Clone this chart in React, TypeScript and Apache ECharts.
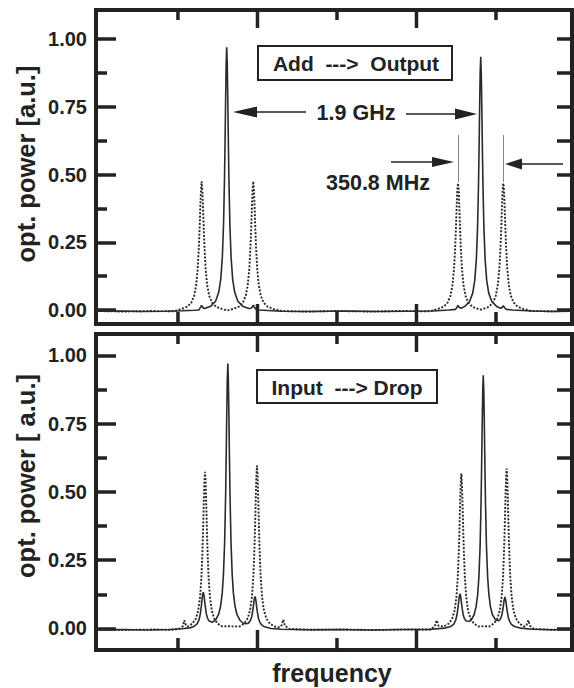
import React, { useEffect, useRef } from "react";
import * as echarts from "echarts";

const FONT = "'Liberation Sans', Arial, Helvetica, sans-serif";
const INK = "#222";

// x positions in arbitrary frequency units, y in a.u.
const X_MIN = -0.031;
const X_MAX = 5.956;
const X_MAJOR = [2, 4];
const X_MINOR = [1, 3, 5];
const Y_MAJOR = [0, 0.25, 0.5, 0.75, 1];
const Y_MINOR = [0.125, 0.375, 0.625, 0.875];
const Y_ALL = [0, 0.125, 0.25, 0.375, 0.5, 0.625, 0.75, 0.875, 1];
const TOP_Y_RANGE = [-0.052, 1.108];
const BOTTOM_Y_RANGE = [-0.079, 1.078];
const PEAK_MARKERS = [4.522, 5.092];
const PEAK_MARKER_SPAN = [0.472, 0.646];

const TOP_SOLID: [number, number][] = [
  [-0.031, -0.005], [0.25, -0.004], [0.55, -0.006], [0.85, -0.005], [1.05, -0.003],
  [1.213, -0.001], [1.265, 0.0], [1.285, 0.01], [1.298, 0.017], [1.312, 0.009], [1.333, 0.005],
  [1.413, 0.014], [1.473, 0.032], [1.513, 0.066], [1.538, 0.113], [1.558, 0.195], [1.573, 0.314],
  [1.585, 0.48], [1.592, 0.616], [1.599, 0.771], [1.606, 0.908], [1.613, 0.97], [1.62, 0.908],
  [1.627, 0.771], [1.634, 0.616], [1.641, 0.48], [1.653, 0.314], [1.668, 0.195], [1.688, 0.113],
  [1.713, 0.066], [1.753, 0.032], [1.813, 0.014], [1.893, 0.005], [1.92, 0.006], [1.935, 0.012],
  [1.947, 0.018], [1.96, 0.01], [1.98, 0.003], [2.013, 0.0], [2.3, -0.005], [2.7, -0.006],
  [3.1, -0.004], [3.5, -0.006], [3.9, -0.005], [4.2, -0.004], [4.408, 0.0], [4.49, 0.002],
  [4.51, 0.01], [4.522, 0.017], [4.536, 0.01], [4.56, 0.006], [4.608, 0.013], [4.668, 0.031],
  [4.708, 0.063], [4.733, 0.109], [4.753, 0.188], [4.768, 0.303], [4.78, 0.463], [4.787, 0.593],
  [4.794, 0.743], [4.801, 0.875], [4.808, 0.935], [4.815, 0.875], [4.822, 0.743], [4.829, 0.593],
  [4.836, 0.463], [4.848, 0.303], [4.863, 0.188], [4.883, 0.109], [4.908, 0.063], [4.948, 0.031],
  [5.008, 0.013], [5.06, 0.006], [5.08, 0.01], [5.092, 0.016], [5.106, 0.009], [5.13, 0.002],
  [5.208, 0.0], [5.45, -0.004], [5.7, -0.006], [5.956, -0.005],
];

const TOP_DOTTED: [number, number][] = [
  [-0.031, -0.004], [0.3, -0.006], [0.65, -0.004], [0.948, -0.005], [1.048, 0.004], [1.118, 0.012],
  [1.168, 0.027], [1.203, 0.052], [1.228, 0.09], [1.248, 0.151], [1.263, 0.233], [1.272, 0.301],
  [1.2805, 0.375], [1.289, 0.441], [1.298, 0.475], [1.307, 0.441], [1.3155, 0.375], [1.324, 0.301],
  [1.333, 0.233], [1.348, 0.151], [1.368, 0.09], [1.393, 0.052], [1.428, 0.027], [1.478, 0.012],
  [1.548, 0.004], [1.62, -0.002], [1.697, 0.004], [1.767, 0.012], [1.817, 0.027], [1.852, 0.052],
  [1.877, 0.09], [1.897, 0.151], [1.912, 0.233], [1.921, 0.301], [1.9295, 0.375], [1.938, 0.441],
  [1.947, 0.475], [1.956, 0.441], [1.9645, 0.375], [1.973, 0.301], [1.982, 0.233], [1.997, 0.151],
  [2.017, 0.09], [2.042, 0.052], [2.077, 0.027], [2.127, 0.012], [2.197, 0.004], [2.297, -0.004],
  [2.6, -0.006], [3.0, -0.004], [3.4, -0.006], [3.8, -0.004], [4.172, -0.005], [4.272, 0.004],
  [4.342, 0.012], [4.392, 0.027], [4.427, 0.052], [4.452, 0.09], [4.472, 0.151], [4.487, 0.233],
  [4.496, 0.301], [4.5045, 0.375], [4.513, 0.441], [4.522, 0.468], [4.531, 0.441], [4.5395, 0.375],
  [4.548, 0.301], [4.557, 0.233], [4.572, 0.151], [4.592, 0.09], [4.617, 0.052], [4.652, 0.027],
  [4.702, 0.012], [4.772, 0.004], [4.807, 0.001], [4.842, 0.004], [4.912, 0.012], [4.962, 0.027],
  [4.997, 0.052], [5.022, 0.09], [5.042, 0.151], [5.057, 0.233], [5.066, 0.301], [5.0745, 0.375],
  [5.083, 0.441], [5.092, 0.468], [5.101, 0.441], [5.1095, 0.375], [5.118, 0.301], [5.127, 0.233],
  [5.142, 0.151], [5.162, 0.09], [5.187, 0.052], [5.222, 0.027], [5.272, 0.012], [5.342, 0.004],
  [5.442, -0.004], [5.7, -0.005], [5.956, -0.004],
];

const BOTTOM_SOLID: [number, number][] = [
  [-0.031, -0.005], [0.3, -0.004], [0.6, -0.006], [0.9, -0.004], [1.05, -0.001], [1.15, 0.002],
  [1.2, 0.007], [1.24, 0.017], [1.263, 0.03], [1.28, 0.051], [1.295, 0.084], [1.308, 0.12],
  [1.318, 0.133], [1.328, 0.12], [1.341, 0.086], [1.356, 0.055], [1.373, 0.036], [1.396, 0.026],
  [1.436, 0.023], [1.476, 0.032], [1.512, 0.052], [1.537, 0.083], [1.557, 0.131], [1.572, 0.197],
  [1.587, 0.315], [1.599, 0.481], [1.606, 0.617], [1.613, 0.772], [1.62, 0.909], [1.627, 0.97],
  [1.634, 0.909], [1.641, 0.772], [1.648, 0.617], [1.655, 0.481], [1.667, 0.316], [1.682, 0.197],
  [1.697, 0.13], [1.717, 0.082], [1.742, 0.051], [1.782, 0.029], [1.822, 0.019], [1.862, 0.017],
  [1.889, 0.02], [1.911, 0.029], [1.928, 0.043], [1.944, 0.071], [1.958, 0.104], [1.969, 0.117],
  [1.98, 0.103], [1.994, 0.069], [2.01, 0.04], [2.027, 0.024], [2.049, 0.014], [2.089, 0.006],
  [2.17, 0.0], [2.3, -0.003], [2.6, -0.005], [3.0, -0.004], [3.4, -0.006], [3.8, -0.004],
  [4.15, -0.004], [4.35, 0.001], [4.43, 0.007], [4.469, 0.016], [4.492, 0.029], [4.509, 0.049],
  [4.524, 0.08], [4.537, 0.114], [4.547, 0.127], [4.557, 0.115], [4.57, 0.083], [4.585, 0.054],
  [4.602, 0.036], [4.625, 0.027], [4.665, 0.026], [4.685, 0.03], [4.725, 0.05], [4.75, 0.08],
  [4.77, 0.125], [4.785, 0.188], [4.8, 0.301], [4.812, 0.459], [4.819, 0.588], [4.826, 0.737],
  [4.833, 0.867], [4.84, 0.927], [4.847, 0.867], [4.854, 0.737], [4.861, 0.588], [4.868, 0.459],
  [4.88, 0.302], [4.895, 0.188], [4.91, 0.126], [4.93, 0.08], [4.955, 0.05], [4.995, 0.031],
  [5.033, 0.028], [5.055, 0.034], [5.072, 0.047], [5.088, 0.072], [5.102, 0.103], [5.113, 0.115],
  [5.124, 0.101], [5.138, 0.069], [5.154, 0.041], [5.171, 0.026], [5.193, 0.015], [5.233, 0.007],
  [5.313, 0.001], [5.45, -0.003], [5.7, -0.005], [5.956, -0.004],
];

const BOTTOM_DOTTED: [number, number][] = [
  [-0.031, -0.004], [0.3, -0.006], [0.7, -0.004], [0.95, -0.005], [1.03, 0.0], [1.06, 0.008],
  [1.08, 0.03], [1.1, 0.012], [1.12, 0.007], [1.18, 0.017], [1.225, 0.036], [1.255, 0.066],
  [1.278, 0.115], [1.295, 0.188], [1.308, 0.282], [1.316, 0.362], [1.324, 0.453], [1.332, 0.534],
  [1.34, 0.573], [1.348, 0.534], [1.356, 0.453], [1.364, 0.362], [1.372, 0.282], [1.385, 0.188],
  [1.402, 0.115], [1.425, 0.066], [1.455, 0.036], [1.5, 0.017], [1.56, 0.007], [1.627, 0.008],
  [1.774, 0.007], [1.834, 0.018], [1.879, 0.038], [1.909, 0.069], [1.932, 0.12], [1.949, 0.196],
  [1.962, 0.294], [1.97, 0.377], [1.978, 0.473], [1.986, 0.557], [1.994, 0.597], [2.002, 0.557],
  [2.01, 0.473], [2.018, 0.377], [2.026, 0.294], [2.039, 0.196], [2.056, 0.12], [2.079, 0.069],
  [2.109, 0.038], [2.154, 0.018], [2.214, 0.007], [2.28, 0.004], [2.305, 0.012], [2.325, 0.032],
  [2.345, 0.01], [2.4, -0.002], [2.7, -0.005], [3.1, -0.004], [3.5, -0.006], [3.9, -0.004],
  [4.18, -0.004], [4.23, 0.008], [4.254, 0.03], [4.276, 0.01], [4.344, 0.007], [4.404, 0.017],
  [4.449, 0.036], [4.479, 0.065], [4.502, 0.114], [4.519, 0.186], [4.532, 0.279], [4.54, 0.358],
  [4.548, 0.449], [4.556, 0.529], [4.564, 0.567], [4.572, 0.529], [4.58, 0.449], [4.588, 0.358],
  [4.596, 0.279], [4.609, 0.186], [4.626, 0.114], [4.649, 0.065], [4.679, 0.036], [4.724, 0.017],
  [4.784, 0.007], [4.849, 0.008], [4.914, 0.007], [4.974, 0.018], [5.019, 0.037], [5.049, 0.068],
  [5.072, 0.118], [5.089, 0.192], [5.102, 0.288], [5.11, 0.369], [5.118, 0.463], [5.126, 0.545],
  [5.134, 0.585], [5.142, 0.545], [5.15, 0.463], [5.158, 0.369], [5.166, 0.288], [5.179, 0.192],
  [5.196, 0.118], [5.219, 0.068], [5.249, 0.037], [5.294, 0.018], [5.354, 0.007], [5.38, 0.009],
  [5.406, 0.03], [5.428, 0.01], [5.48, -0.002], [5.7, -0.005], [5.956, -0.004],
];

const TICK_W = 3.5;

function xAxisDef(gridIndex: number) {
  return {
    type: "value",
    gridIndex,
    position: "bottom",
    min: X_MIN,
    max: X_MAX,
    axisLine: { show: false, onZero: false },
    splitLine: { show: false },
    axisLabel: { show: false },
    axisTick: { show: false },
  };
}

function yAxisDef(gridIndex: number, position: string, values: number[], length: number, range: number[], labels: boolean) {
  return {
    type: "value",
    gridIndex,
    position,
    min: range[0],
    max: range[1],
    axisLine: { show: false, onZero: false },
    splitLine: { show: false },
    axisLabel: labels
      ? {
          show: true,
          customValues: Y_MAJOR,
          margin: 9,
          color: INK,
          fontFamily: FONT,
          fontWeight: "bold",
          fontSize: 20,
          formatter: (v: number) => v.toFixed(2),
        }
      : { show: false },
    axisTick: { show: true, inside: true, length, customValues: values, lineStyle: { color: INK, width: TICK_W } },
  };
}

function textEl(text: string, x: number, y: number, size: number, rotation = 0) {
  return {
    type: "text",
    x,
    y,
    rotation,
    z: 20,
    style: {
      text,
      font: `bold ${size}px ${FONT}`,
      fill: INK,
      align: "center",
      verticalAlign: "middle",
      textAlign: "center",
      textVerticalAlign: "middle",
    },
  };
}

function arrowEl(x1: number, x2: number, y: number, headLen: number, headHalf: number) {
  const dir = x2 > x1 ? 1 : -1;
  const base = x2 - dir * headLen;
  return [
    { type: "line", z: 20, shape: { x1, y1: y, x2: base, y2: y }, style: { stroke: INK, lineWidth: 1.5 } },
    { type: "polygon", z: 20, shape: { points: [[x2, y], [base, y - headHalf], [base, y + headHalf]] }, style: { fill: INK } },
  ];
}

export default function App() {
  const ref = useRef<HTMLDivElement>(null);

  useEffect(() => {
    const chart = echarts.init(ref.current!, undefined, { renderer: "svg" });
    const gridStyle = { show: true, borderColor: INK, borderWidth: 4, backgroundColor: "transparent" };
    const option: any = {
      animation: false,
      backgroundColor: "#fff",
      textStyle: { fontFamily: FONT },
      grid: [
        { left: 96, top: 10, width: 476, height: 314, ...gridStyle },
        { left: 96, top: 334, width: 476, height: 316, ...gridStyle },
      ],
      xAxis: [xAxisDef(0), xAxisDef(1)],
      yAxis: [
        yAxisDef(0, "left", Y_MAJOR, 20, TOP_Y_RANGE, true),
        yAxisDef(0, "left", Y_MINOR, 11, TOP_Y_RANGE, false),
        yAxisDef(0, "right", Y_ALL, 15, TOP_Y_RANGE, false),
        yAxisDef(1, "left", Y_MAJOR, 20, BOTTOM_Y_RANGE, true),
        yAxisDef(1, "left", Y_MINOR, 11, BOTTOM_Y_RANGE, false),
        yAxisDef(1, "right", Y_ALL, 15, BOTTOM_Y_RANGE, false),
      ],
      series: [
        {
          name: "Add → Output (solid)",
          type: "line",
          xAxisIndex: 0,
          yAxisIndex: 0,
          data: TOP_SOLID,
          showSymbol: false,
          lineStyle: { color: "#2a2a2a", width: 1.6 },
          z: 3,
        },
        {
          name: "Add → Output (dotted)",
          type: "line",
          xAxisIndex: 0,
          yAxisIndex: 0,
          data: TOP_DOTTED,
          showSymbol: false,
          lineStyle: { color: "#2a2a2a", width: 1.9, type: [2, 1.6] },
          z: 2,
          markLine: {
            silent: true,
            symbol: "none",
            label: { show: false },
            lineStyle: { color: "#888", width: 1, type: "solid" },
            data: PEAK_MARKERS.map((x) => [{ coord: [x, PEAK_MARKER_SPAN[0]] }, { coord: [x, PEAK_MARKER_SPAN[1]] }]),
          },
        },
        {
          name: "Input → Drop (solid)",
          type: "line",
          xAxisIndex: 1,
          yAxisIndex: 3,
          data: BOTTOM_SOLID,
          showSymbol: false,
          lineStyle: { color: "#2a2a2a", width: 1.6 },
          z: 3,
        },
        {
          name: "Input → Drop (dotted)",
          type: "line",
          xAxisIndex: 1,
          yAxisIndex: 3,
          data: BOTTOM_DOTTED,
          showSymbol: false,
          lineStyle: { color: "#2a2a2a", width: 1.9, type: [2, 1.6] },
          z: 2,
        },
      ],
    };
    chart.setOption(option);

    // x-axis tick marks on the top and bottom frame edges, placed through the axis scales
    const tickEls: any[] = [];
    const panels = [
      { xAxisIndex: 0, yAxisIndex: 0, range: TOP_Y_RANGE },
      { xAxisIndex: 1, yAxisIndex: 3, range: BOTTOM_Y_RANGE },
    ];
    panels.forEach((p) => {
      const add = (v: number, topLen: number, bottomLen: number) => {
        const pb = chart.convertToPixel({ xAxisIndex: p.xAxisIndex, yAxisIndex: p.yAxisIndex }, [v, p.range[0]]) as number[];
        const pt = chart.convertToPixel({ xAxisIndex: p.xAxisIndex, yAxisIndex: p.yAxisIndex }, [v, p.range[1]]) as number[];
        tickEls.push({ type: "line", z: 15, shape: { x1: pt[0], y1: pt[1], x2: pt[0], y2: pt[1] + topLen }, style: { stroke: INK, lineWidth: TICK_W } });
        tickEls.push({ type: "line", z: 15, shape: { x1: pb[0], y1: pb[1], x2: pb[0], y2: pb[1] - bottomLen }, style: { stroke: INK, lineWidth: TICK_W } });
      };
      X_MAJOR.forEach((v) => add(v, 18, 20));
      X_MINOR.forEach((v) => add(v, 10, 12));
    });

    chart.setOption({
      graphic: [
        ...tickEls,
        { type: "rect", z: 18, shape: { x: 258, y: 46, width: 194, height: 34 }, style: { fill: "#fff", stroke: INK, lineWidth: 2 } },
        textEl("Add\u00a0\u00a0--->\u00a0\u00a0Output", 356, 63.5, 21),
        { type: "rect", z: 18, shape: { x: 257, y: 370, width: 180, height: 33 }, style: { fill: "#fff", stroke: INK, lineWidth: 2 } },
        textEl("Input\u00a0\u00a0--->\u00a0Drop", 347, 387, 21),
        ...arrowEl(306, 233, 112, 24, 5.5),
        textEl("1.9 GHz", 356, 113, 21.5),
        ...arrowEl(406, 477, 114, 22, 5.5),
        textEl("350.8 MHz", 378, 183, 21.5),
        ...arrowEl(391, 454, 162, 22, 5),
        ...arrowEl(563, 505, 164, 17, 5.5),
        textEl("opt. power [a.u.]", 26, 164, 25.5, Math.PI / 2),
        textEl("opt. power [\u00a0a.u.]", 26, 476, 25.5, Math.PI / 2),
        textEl("frequency", 332, 673, 25),
      ],
    });
    return () => chart.dispose();
  }, []);

  return (
    <div
      ref={ref}
      style={{ position: "absolute", left: 0, top: 0, width: 574, height: 688, background: "#fff" }}
    />
  );
}
